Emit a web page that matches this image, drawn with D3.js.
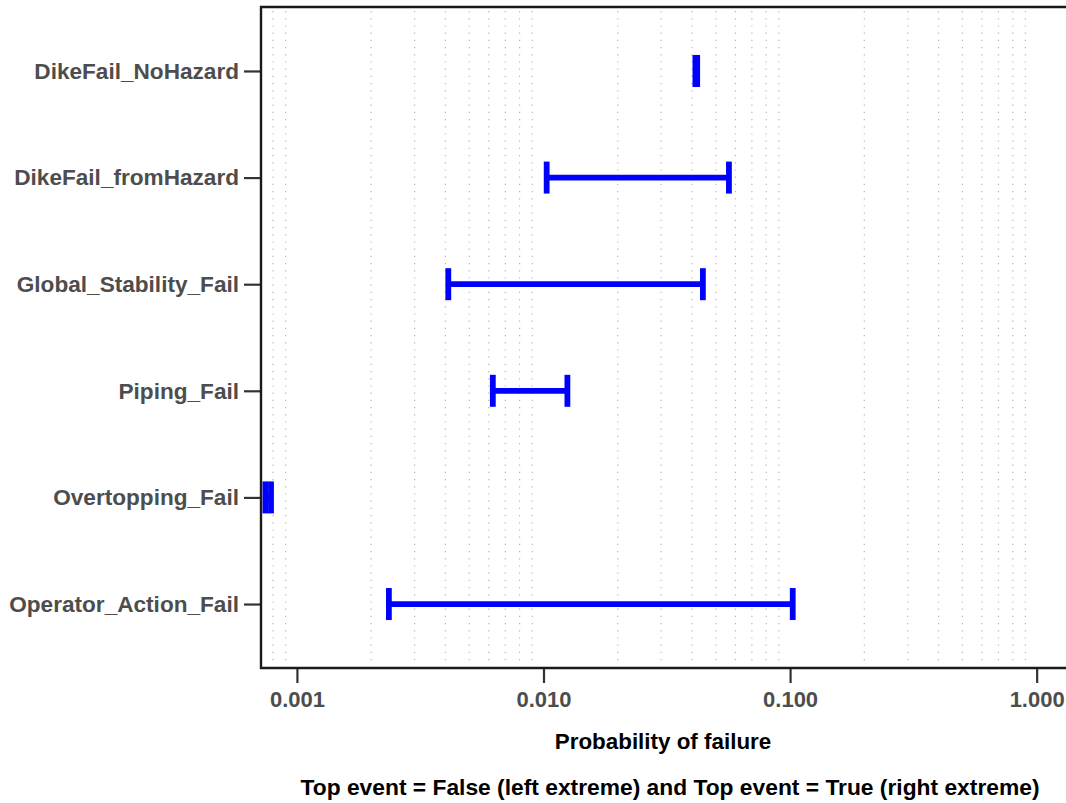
<!DOCTYPE html>
<html>
<head>
<meta charset="utf-8">
<script src="https://cdn.jsdelivr.net/npm/d3@7"></script>
<style>
  html, body { margin: 0; padding: 0; background: #fff; }
  svg { display: block; font-family: "Liberation Sans", Arial, sans-serif; }
</style>
</head>
<body>
<svg id="chart" width="1066" height="803"></svg>
<script>
// Failure events, top to bottom
const events = [
  "DikeFail_NoHazard",
  "DikeFail_fromHazard",
  "Global_Stability_Fail",
  "Piping_Fail",
  "Overtopping_Fail",
  "Operator_Action_Fail"
];
// Probability of failure when the top event is False (left end)
const probFalse = [0.0413, 0.0103, 0.00411, 0.00623, 0.000745, 0.00236];
// Probability of failure when the top event is True (right end)
const probTrue  = [0.0420, 0.0565, 0.0443, 0.0125, 0.000785, 0.1025];
// Labelled ticks on the probability axis
const tickValues = [0.001, 0.01, 0.1, 1];
const tickLabels = ["0.001", "0.010", "0.100", "1.000"];

const rows = events.map((e, i) => ({ event: e, lo: probFalse[i], hi: probTrue[i] }));

const svg = d3.select("#chart");
const plot = { left: 261, right: 1068, top: 7, bottom: 668 };

const x = d3.scaleLog()
  .domain([0.000715, 1.34])
  .range([plot.left, plot.right]);

const y = d3.scalePoint()
  .domain(events)
  .range([plot.top, plot.bottom])
  .padding(0.6);

// Minor gridlines (2..9 within each decade), dotted
const minor = [];
for (let p = -4; p <= 0; p++) {
  for (let m = 2; m <= 9; m++) {
    const v = m * Math.pow(10, p);
    if (v > x.domain()[0] && v < x.domain()[1]) minor.push(v);
  }
}
svg.append("g")
  .selectAll("line")
  .data(minor)
  .join("line")
  .attr("x1", d => x(d)).attr("x2", d => x(d))
  .attr("y1", plot.top + 4).attr("y2", plot.bottom - 2)
  .attr("stroke", "#b5b5b5")
  .attr("stroke-width", 1.2)
  .attr("stroke-dasharray", "1.2 6");

// Clip marks to the panel
svg.append("defs").append("clipPath").attr("id", "panel")
  .append("rect")
  .attr("x", plot.left).attr("y", plot.top)
  .attr("width", plot.right - plot.left).attr("height", plot.bottom - plot.top);

const marks = svg.append("g").attr("clip-path", "url(#panel)");
const capH = 16;
const blue = "#0000ff";

marks.selectAll("line.range")
  .data(rows)
  .join("line")
  .attr("class", "range")
  .attr("x1", d => x(d.lo)).attr("x2", d => x(d.hi))
  .attr("y1", d => y(d.event)).attr("y2", d => y(d.event))
  .attr("stroke", blue).attr("stroke-width", 5.8);

const caps = rows.flatMap(d => [{ event: d.event, v: d.lo }, { event: d.event, v: d.hi }]);
marks.selectAll("line.cap")
  .data(caps)
  .join("line")
  .attr("class", "cap")
  .attr("x1", d => x(d.v)).attr("x2", d => x(d.v))
  .attr("y1", d => y(d.event) - capH).attr("y2", d => y(d.event) + capH)
  .attr("stroke", blue).attr("stroke-width", 5.8);

// Axes
const xAxis = svg.append("g")
  .attr("transform", `translate(0,${plot.bottom})`)
  .call(d3.axisBottom(x)
    .tickValues(tickValues)
    .tickFormat((d, i) => tickLabels[i])
    .tickSize(15)
    .tickPadding(4));
xAxis.select(".domain").remove();
xAxis.selectAll(".tick line").attr("stroke", "#333").attr("stroke-width", 2.2);
xAxis.selectAll(".tick text")
  .attr("fill", "#4d4d4d")
  .attr("font-size", 22)
  .attr("font-weight", "bold")
  .attr("dy", "0.92em");

const yAxis = svg.append("g")
  .attr("transform", `translate(${plot.left},0)`)
  .call(d3.axisLeft(y).tickSize(17).tickPadding(5));
yAxis.select(".domain").remove();
yAxis.selectAll(".tick line").attr("stroke", "#333").attr("stroke-width", 2.2);
yAxis.selectAll(".tick text")
  .attr("fill", "#4d4d4d")
  .attr("font-size", 22.6)
  .attr("font-weight", "bold");

// Panel border (left, top, bottom)
svg.append("path")
  .attr("d", `M${plot.right},${plot.top}H${plot.left}V${plot.bottom}H${plot.right}`)
  .attr("fill", "none")
  .attr("stroke", "#1a1a1a")
  .attr("stroke-width", 2.4);

// Titles
svg.append("text")
  .attr("x", 663).attr("y", 749)
  .attr("text-anchor", "middle")
  .attr("font-size", 22.4).attr("font-weight", "bold").attr("fill", "#000")
  .text("Probability of failure");

svg.append("text")
  .attr("x", 670).attr("y", 795)
  .attr("text-anchor", "middle")
  .attr("font-size", 22.8).attr("font-weight", "bold").attr("fill", "#000")
  .text("Top event = False (left extreme) and Top event = True (right extreme)");
</script>
</body>
</html>
